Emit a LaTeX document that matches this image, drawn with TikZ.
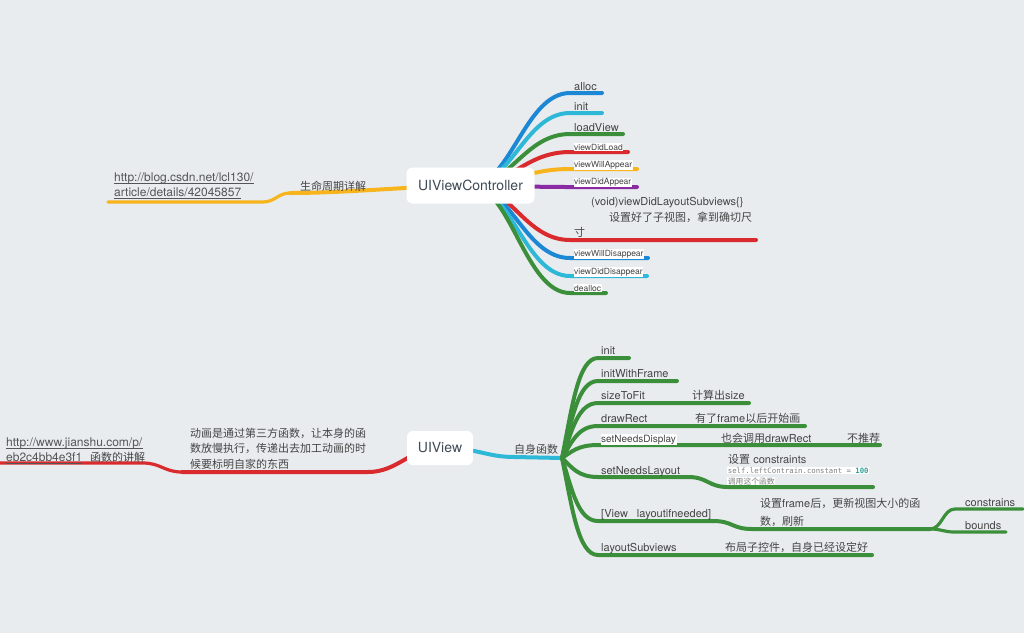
\documentclass[tikz,border=0pt]{standalone}
\usepackage{fontspec}
\setmainfont{TeX Gyre Heros}
\newfontfamily\zh{Noto Sans CJK SC}
\newfontfamily\mono{DejaVu Sans Mono}
\pgfdeclarelayer{back}
\pgfdeclarelayer{lines}
\pgfsetlayers{back,lines,main}
\definecolor{bgc}{HTML}{E9ECEF}
\definecolor{cBlue}{HTML}{1B87D5}
\definecolor{cCyan}{HTML}{2EB8D8}
\definecolor{cGreen}{HTML}{3B8F3A}
\definecolor{cRed}{HTML}{D92B2E}
\definecolor{cYellow}{HTML}{F8B41C}
\definecolor{cPurple}{HTML}{8B2BA3}
\definecolor{txt}{HTML}{444444}
\definecolor{rootc}{HTML}{3E4A55}
\definecolor{linkc}{HTML}{555555}
\definecolor{codec}{HTML}{808080}
\definecolor{numc}{HTML}{2AA198}
\begin{document}
\begin{tikzpicture}[x=1pt,y=-1pt,
  br/.style={line width=4pt,line cap=round},
  br2/.style={line width=3.2pt,line cap=round},
  lbl/.style={anchor=base west,inner sep=0pt,text=txt,font=\fontsize{11}{13}\selectfont},
  sml/.style={anchor=base west,inner sep=0.7pt,fill=white,text=txt,font=\fontsize{8.5}{10}\selectfont},
  lnk/.style={anchor=base west,inner sep=0pt,text=linkc,font=\fontsize{12}{14}\selectfont},
  rootbox/.style={fill=white,rounded corners=6pt,inner sep=0pt,text=rootc,font=\fontsize{14}{16}\selectfont}]

\begin{pgfonlayer}{back}
\fill[bgc] (0,0) rectangle (1024,633);
\end{pgfonlayer}
\useasboundingbox (0,0) rectangle (1024,633);

% root nodes
\node[rootbox,minimum width=128pt,minimum height=36pt] (vc) at (470.5,185.5) {UIViewController};
\node[rootbox,minimum width=66pt,minimum height=34pt] (uv) at (440,448) {UIView};

% UIViewController labels
\node[lbl] (alloc) at (574,90) {alloc};
\node[lbl] (init1) at (574,110) {init};
\node[lbl] (loadview) at (574,131) {loadView};
\node[sml] (vdl) at (573.3,150) {viewDidLoad};
\node[sml] (vwa) at (573.3,167) {viewWillAppear};
\node[sml] (vda) at (573.3,184.5) {viewDidAppear};
\node[lbl] (dl1) at (591,205) {(void)viewDidLayoutSubviews\{\}};
\node[lbl] (dl2) at (609,221) {\zh 设置好了子视图，拿到确切尺};
\node[lbl] (dl3) at (574,236) {\zh 寸};
\node[sml] (vwd) at (573.3,256) {viewWillDisappear};
\node[sml] (vdd) at (573.3,274) {viewDidDisappear};
\node[sml] (dealloc) at (573.3,291) {dealloc};

% left of UIViewController
\node[lbl] (sm) at (300,190) {\zh 生命周期详解};
\node[lnk] (lk1) at (114,181.5) {http://blog.csdn.net/lcl130/};
\node[lnk] (lk2) at (114,196.5) {article/details/42045857};

% UIView labels
\node[lbl] (zishen) at (514,453) {\zh 自身函数};
\node[lbl] (t-i2) at (601,354) {init};
\node[lbl] (t-iwf) at (601,377) {initWithFrame};
\node[lbl] (t-stf) at (601,399) {sizeToFit};
\node[lbl] (t-stf2) at (692,399) {{\zh 计算出}size};
\node[lbl] (t-dr) at (601,422) {drawRect};
\node[lbl] (t-dr2) at (695,422) {{\zh 有了}frame{\zh 以后开始画}};
\node[lbl,fill=white,inner sep=0.7pt,font=\fontsize{10}{12}\selectfont] (t-snd) at (600.3,442) {setNeedsDisplay};
\node[lbl] (t-snd2) at (721,442) {{\zh 也会调用}drawRect};
\node[lbl] (t-snd3) at (847,442) {\zh 不推荐};
\node[lbl] (t-snl) at (601,474) {setNeedsLayout};
\node[lbl] (t-snl2) at (728,463) {{\zh 设置} constraints};
\node[anchor=base west,inner sep=0.7pt,fill=white,text=codec,font=\mono\fontsize{7.3}{8}\selectfont] (t-code) at (727,473.5) {self.leftContrain.constant = \textcolor{numc}{\bfseries 100}};
\node[anchor=base west,inner sep=0.7pt,fill=white,text=codec,font=\zh\fontsize{7.8}{9}\selectfont] (t-call) at (727,484) {调用这个函数};
\node[lbl] (t-lin) at (601,517) {[View\hspace{9pt}layoutifneeded]};
\node[lbl] (t-lin2) at (760,507) {{\zh 设置}frame{\zh 后，更新视图大小的函}};
\node[lbl] (t-lin3) at (760,525) {\zh 数，刷新};
\node[lbl] (t-cs) at (965,506) {constrains};
\node[lbl] (t-bd) at (965,529) {bounds};
\node[lbl] (t-ls) at (601,551) {layoutSubviews};
\node[lbl] (t-ls2) at (725,551) {\zh 布局子控件，自身已经设定好};

% left of UIView
\node[lbl] (an1) at (190,437) {\zh 动画是通过第三方函数，让本身的函};
\node[lbl] (an2) at (190,452.5) {\zh 数放慢执行，传递出去加工动画的时};
\node[lbl] (an3) at (190,468) {\zh 候要标明自家的东西};
\node[lnk] (lk3) at (6,446) {http://www.jianshu.com/p/};
\node[lnk] (lk4) at (6,461.7) {eb2c4bb4e3f1};
\node[lbl] (lk5) at (90,461.7) {\zh 函数的讲解};

\foreach \k in {lk1,lk2,lk3,lk4}
  \draw[linkc,line width=0.7pt] ([yshift=-2pt]\k.base west) -- ([yshift=-2pt]\k.base east);

\begin{pgfonlayer}{lines}
% UIViewController branches
\foreach \n/\y/\e/\c in {alloc/93/602/cBlue,init1/113/602/cCyan,loadview/134/623/cGreen,vdl/152/628/cRed,vwa/169/637/cYellow,vda/187/637/cPurple,dl/240/756/cRed,vwd/258/648/cBlue,vdd/276/647/cCyan,dealloc/293/606/cGreen}{
  \coordinate (\n-a) at (570,\y);
  \coordinate (\n-b) at (\e,\y);
  \draw[br,\c] (vc.center) .. controls +(40,0) and +(-45,0) .. (\n-a) -- (\n-b);
}
% yellow to the left
\coordinate (yl-a) at (290,193);
\coordinate (yl-b) at (263,202);
\coordinate (yl-c) at (108,202);
\draw[br,cYellow] (vc.center) .. controls +(-50,0) and +(60,0) .. (yl-a);
\draw[br2,cYellow] (yl-a) .. controls +(-12,0) and +(12,0) .. (yl-b) -- (yl-c);

% UIView to hub
\coordinate (hub) at (562,458);
\coordinate (uvh) at (515,457);
\draw[br,cCyan] (uv.center) .. controls +(40,0) and +(-30,0) .. (uvh) -- (hub);

\foreach \n/\y/\e in {i2/358/629,iwf/381/677,stf/403/749,dr/426/805,snd/445/880,snl/477/688,lin/521/713,ls/555/872}{
  \pgfmathsetmacro\dy{(\y-458)*0.5}
  \coordinate (\n-a) at (598,\y);
  \coordinate (\n-b) at (\e,\y);
  \draw[br,cGreen] (hub) .. controls +(10,\dy) and +(-20,0) .. (\n-a) -- (\n-b);
}
\coordinate (snl-c) at (728,487);
\coordinate (snl-d) at (873,487);
\draw[br,cGreen] (snl-b) .. controls +(20,0) and +(-20,0) .. (snl-c) -- (snl-d);
\coordinate (lin-c) at (752,529);
\coordinate (split) at (930,529);
\draw[br,cGreen] (lin-b) .. controls +(20,0) and +(-20,0) .. (lin-c) -- (split);
\coordinate (cs-a) at (955,509);
\coordinate (cs-b) at (1023,509);
\coordinate (bd-a) at (955,532);
\coordinate (bd-b) at (1006,532);
\draw[br2,cGreen] (split) .. controls +(12,0) and +(-12,0) .. (cs-a) -- (cs-b);
\draw[br2,cGreen] (split) .. controls +(12,0) and +(-12,0) .. (bd-a) -- (bd-b);

% red to the left
\coordinate (rd-a) at (368,472);
\coordinate (rd-b) at (182,472);
\coordinate (rd-c) at (143,463);
\coordinate (rd-d) at (0,463);
\draw[br,cRed] (uv.center) .. controls +(-30,0) and +(30,0) .. (rd-a) -- (rd-b);
\draw[br2,cRed] (rd-b) .. controls +(-18,0) and +(18,0) .. (rd-c) -- (rd-d);
\end{pgfonlayer}
\end{tikzpicture}
\end{document}
